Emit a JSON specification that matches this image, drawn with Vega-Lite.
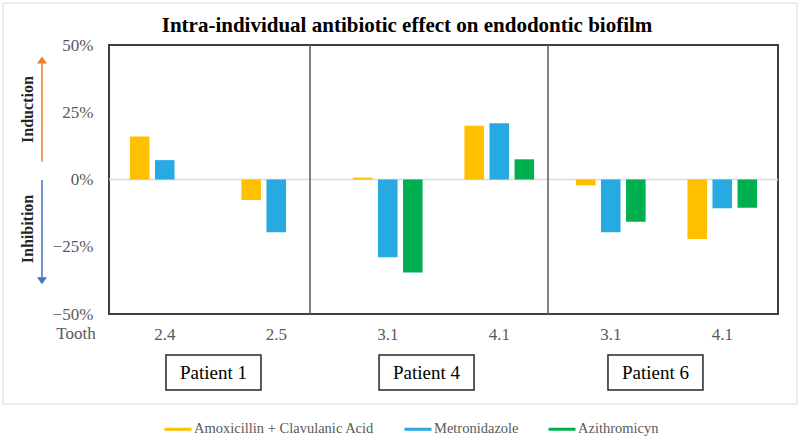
{
  "$schema": "https://vega.github.io/schema/vega-lite/v6.json",
  "width": 669,
  "height": 269,
  "autosize": {"type": "none"},
  "padding": {"left": 109, "top": 45, "right": 22, "bottom": 125},
  "background": "white",
  "datasets": {
    "bars": [
      {"key": "P1 2.4", "drug": "Amoxicillin + Clavulanic Acid", "value": 0.16},
      {"key": "P1 2.4", "drug": "Metronidazole", "value": 0.072},
      {"key": "P1 2.5", "drug": "Amoxicillin + Clavulanic Acid", "value": -0.076},
      {"key": "P1 2.5", "drug": "Metronidazole", "value": -0.196},
      {"key": "P4 3.1", "drug": "Amoxicillin + Clavulanic Acid", "value": 0.007},
      {"key": "P4 3.1", "drug": "Metronidazole", "value": -0.289},
      {"key": "P4 3.1", "drug": "Azithromicyn", "value": -0.346},
      {"key": "P4 4.1", "drug": "Amoxicillin + Clavulanic Acid", "value": 0.2},
      {"key": "P4 4.1", "drug": "Metronidazole", "value": 0.209},
      {"key": "P4 4.1", "drug": "Azithromicyn", "value": 0.075},
      {"key": "P6 3.1", "drug": "Amoxicillin + Clavulanic Acid", "value": -0.022},
      {"key": "P6 3.1", "drug": "Metronidazole", "value": -0.196},
      {"key": "P6 3.1", "drug": "Azithromicyn", "value": -0.157},
      {"key": "P6 4.1", "drug": "Amoxicillin + Clavulanic Acid", "value": -0.221},
      {"key": "P6 4.1", "drug": "Metronidazole", "value": -0.107},
      {"key": "P6 4.1", "drug": "Azithromicyn", "value": -0.105}
    ],
    "one": [{}]
  },
  "resolve": {"scale": {"x": "independent"}, "axis": {"x": "independent"}},
  "layer": [
    {
      "data": {"name": "one"},
      "mark": {"type": "rect", "fill": null, "stroke": "#d9d9d9", "strokeWidth": 1},
      "encoding": {
        "x": {"datum": -0.951, "type": "quantitative", "scale": {"domain": [0, 6], "nice": false, "zero": false}, "axis": null},
        "x2": {"datum": 6.17},
        "y": {"datum": 0.656, "type": "quantitative", "scale": {"domain": [-0.5, 0.5], "nice": false}},
        "y2": {"datum": -0.835}
      }
    },
    {
      "data": {"name": "one"},
      "mark": {"type": "rule", "color": "#d9d9d9", "strokeWidth": 1.5},
      "encoding": {
        "y": {"datum": 0, "type": "quantitative", "scale": {"domain": [-0.5, 0.5], "nice": false}}
      }
    },
    {
      "data": {"name": "bars"},
      "mark": {"type": "bar"},
      "encoding": {
        "x": {
          "field": "key",
          "type": "nominal",
          "sort": null,
          "scale": {"domain": ["P1 2.4", "P1 2.5", "P4 3.1", "P4 4.1", "P6 3.1", "P6 4.1"], "paddingInner": 0.375, "paddingOuter": 0.1875},
          "axis": {"title": null, "labelExpr": "split(datum.label, ' ')[1]", "labelAngle": 0, "ticks": false, "domain": false, "labelPadding": 12, "labelFont": "Liberation Serif", "labelFontSize": 17, "labelColor": "#595959"}
        },
        "xOffset": {
          "field": "drug",
          "type": "nominal",
          "scale": {"domain": ["Amoxicillin + Clavulanic Acid", "Metronidazole", "Azithromicyn"], "paddingInner": 0.22, "paddingOuter": 0}
        },
        "y": {
          "field": "value",
          "type": "quantitative",
          "scale": {"domain": [-0.5, 0.5], "nice": false},
          "axis": {"title": null, "values": [-0.5, -0.25, 0, 0.25, 0.5], "format": ".0%", "grid": false, "ticks": false, "domain": false, "labelPadding": 16, "labelFont": "Liberation Serif", "labelFontSize": 17, "labelColor": "#595959"}
        },
        "color": {
          "field": "drug",
          "type": "nominal",
          "scale": {"domain": ["Amoxicillin + Clavulanic Acid", "Metronidazole", "Azithromicyn"], "range": ["#FFC000", "#27A9E1", "#00B050"]},
          "legend": {
            "orient": "none",
            "legendX": 54,
            "legendY": 369,
            "direction": "horizontal",
            "title": null,
            "symbolType": "stroke",
            "symbolSize": 729,
            "symbolStrokeWidth": 3,
            "labelFont": "Liberation Serif",
            "labelFontSize": 14.5,
            "labelColor": "#595959",
            "labelLimit": 0,
            "labelOffset": 1,
            "columnPadding": 23,
            "encode": {"symbols": {"update": {"stroke": {"scale": "color", "field": "value"}}}}
          }
        }
      }
    },
    {
      "data": {"name": "one"},
      "mark": {"type": "rule", "color": "#595959", "strokeWidth": 1.5},
      "encoding": {
        "x": {"datum": 1.803, "type": "quantitative", "scale": {"domain": [0, 6], "nice": false, "zero": false}, "axis": null},
        "y": {"datum": -0.5, "type": "quantitative", "scale": {"domain": [-0.5, 0.5], "nice": false}},
        "y2": {"datum": 0.5}
      }
    },
    {
      "data": {"name": "one"},
      "mark": {"type": "rule", "color": "#595959", "strokeWidth": 1.5},
      "encoding": {
        "x": {"datum": 3.937, "type": "quantitative", "scale": {"domain": [0, 6], "nice": false, "zero": false}, "axis": null},
        "y": {"datum": -0.5, "type": "quantitative", "scale": {"domain": [-0.5, 0.5], "nice": false}},
        "y2": {"datum": 0.5}
      }
    },
    {
      "data": {"name": "one"},
      "mark": {"type": "rule", "color": "#ED7D31", "strokeWidth": 1.5},
      "encoding": {
        "x": {"datum": -0.601, "type": "quantitative", "scale": {"domain": [0, 6], "nice": false, "zero": false}, "axis": null},
        "y": {"datum": 0.066, "type": "quantitative", "scale": {"domain": [-0.5, 0.5], "nice": false}},
        "y2": {"datum": 0.44}
      }
    },
    {
      "data": {"name": "one"},
      "mark": {"type": "point", "shape": "M-1,0.7L1,0.7L0,-0.7Z", "size": 100, "filled": true, "color": "#ED7D31", "opacity": 1},
      "encoding": {
        "x": {"datum": -0.601, "type": "quantitative", "scale": {"domain": [0, 6], "nice": false, "zero": false}, "axis": null},
        "y": {"datum": 0.444, "type": "quantitative", "scale": {"domain": [-0.5, 0.5], "nice": false}}
      }
    },
    {
      "data": {"name": "one"},
      "mark": {"type": "rule", "color": "#4472C4", "strokeWidth": 1.5},
      "encoding": {
        "x": {"datum": -0.601, "type": "quantitative", "scale": {"domain": [0, 6], "nice": false, "zero": false}, "axis": null},
        "y": {"datum": -0.002, "type": "quantitative", "scale": {"domain": [-0.5, 0.5], "nice": false}},
        "y2": {"datum": -0.37}
      }
    },
    {
      "data": {"name": "one"},
      "mark": {"type": "point", "shape": "M-1,-0.7L1,-0.7L0,0.7Z", "size": 100, "filled": true, "color": "#4472C4", "opacity": 1},
      "encoding": {
        "x": {"datum": -0.601, "type": "quantitative", "scale": {"domain": [0, 6], "nice": false, "zero": false}, "axis": null},
        "y": {"datum": -0.3766, "type": "quantitative", "scale": {"domain": [-0.5, 0.5], "nice": false}}
      }
    },
    {
      "data": {"name": "one"},
      "mark": {"type": "text", "text": "Intra-individual antibiotic effect on endodontic biofilm", "font": "Liberation Serif", "fontSize": 21, "fontWeight": "bold", "color": "#000000", "baseline": "alphabetic", "align": "center"},
      "encoding": {
        "x": {"datum": 2.673, "type": "quantitative", "scale": {"domain": [0, 6], "nice": false, "zero": false}, "axis": null},
        "y": {"datum": 0.547, "type": "quantitative", "scale": {"domain": [-0.5, 0.5], "nice": false}}
      }
    },
    {
      "data": {"name": "one"},
      "mark": {"type": "text", "text": "Induction", "font": "Liberation Serif", "angle": 270, "fontSize": 16, "fontWeight": "bold", "color": "#262626", "baseline": "middle", "align": "center"},
      "encoding": {
        "x": {"datum": -0.726, "type": "quantitative", "scale": {"domain": [0, 6], "nice": false, "zero": false}, "axis": null},
        "y": {"datum": 0.26, "type": "quantitative", "scale": {"domain": [-0.5, 0.5], "nice": false}}
      }
    },
    {
      "data": {"name": "one"},
      "mark": {"type": "text", "text": "Inhibition", "font": "Liberation Serif", "angle": 270, "fontSize": 16, "fontWeight": "bold", "color": "#262626", "baseline": "middle", "align": "center"},
      "encoding": {
        "x": {"datum": -0.726, "type": "quantitative", "scale": {"domain": [0, 6], "nice": false, "zero": false}, "axis": null},
        "y": {"datum": -0.184, "type": "quantitative", "scale": {"domain": [-0.5, 0.5], "nice": false}}
      }
    },
    {
      "data": {"name": "one"},
      "mark": {"type": "text", "text": "Tooth", "font": "Liberation Serif", "fontSize": 17, "color": "#595959", "baseline": "top", "align": "center"},
      "encoding": {
        "x": {"datum": -0.296, "type": "quantitative", "scale": {"domain": [0, 6], "nice": false, "zero": false}, "axis": null},
        "y": {"datum": -0.5454, "type": "quantitative", "scale": {"domain": [-0.5, 0.5], "nice": false}}
      }
    },
    {
      "data": {"name": "one"},
      "mark": {"type": "point", "shape": "M-1,-0.37H1V0.37H-1Z", "size": 9025, "filled": false, "color": "#262626", "strokeWidth": 1.5, "opacity": 1},
      "encoding": {
        "x": {"datum": 0.937, "type": "quantitative", "scale": {"domain": [0, 6], "nice": false, "zero": false}, "axis": null},
        "y": {"datum": -0.7175, "type": "quantitative", "scale": {"domain": [-0.5, 0.5], "nice": false}}
      }
    },
    {
      "data": {"name": "one"},
      "mark": {"type": "text", "text": "Patient 1", "font": "Liberation Serif", "fontSize": 19, "color": "#000000", "baseline": "middle", "align": "center"},
      "encoding": {
        "x": {"datum": 0.937, "type": "quantitative", "scale": {"domain": [0, 6], "nice": false, "zero": false}, "axis": null},
        "y": {"datum": -0.7175, "type": "quantitative", "scale": {"domain": [-0.5, 0.5], "nice": false}}
      }
    },
    {
      "data": {"name": "one"},
      "mark": {"type": "point", "shape": "M-1,-0.37H1V0.37H-1Z", "size": 9025, "filled": false, "color": "#262626", "strokeWidth": 1.5, "opacity": 1},
      "encoding": {
        "x": {"datum": 2.848, "type": "quantitative", "scale": {"domain": [0, 6], "nice": false, "zero": false}, "axis": null},
        "y": {"datum": -0.7175, "type": "quantitative", "scale": {"domain": [-0.5, 0.5], "nice": false}}
      }
    },
    {
      "data": {"name": "one"},
      "mark": {"type": "text", "text": "Patient 4", "font": "Liberation Serif", "fontSize": 19, "color": "#000000", "baseline": "middle", "align": "center"},
      "encoding": {
        "x": {"datum": 2.848, "type": "quantitative", "scale": {"domain": [0, 6], "nice": false, "zero": false}, "axis": null},
        "y": {"datum": -0.7175, "type": "quantitative", "scale": {"domain": [-0.5, 0.5], "nice": false}}
      }
    },
    {
      "data": {"name": "one"},
      "mark": {"type": "point", "shape": "M-1,-0.37H1V0.37H-1Z", "size": 9025, "filled": false, "color": "#262626", "strokeWidth": 1.5, "opacity": 1},
      "encoding": {
        "x": {"datum": 4.901, "type": "quantitative", "scale": {"domain": [0, 6], "nice": false, "zero": false}, "axis": null},
        "y": {"datum": -0.7175, "type": "quantitative", "scale": {"domain": [-0.5, 0.5], "nice": false}}
      }
    },
    {
      "data": {"name": "one"},
      "mark": {"type": "text", "text": "Patient 6", "font": "Liberation Serif", "fontSize": 19, "color": "#000000", "baseline": "middle", "align": "center"},
      "encoding": {
        "x": {"datum": 4.901, "type": "quantitative", "scale": {"domain": [0, 6], "nice": false, "zero": false}, "axis": null},
        "y": {"datum": -0.7175, "type": "quantitative", "scale": {"domain": [-0.5, 0.5], "nice": false}}
      }
    }
  ],
  "config": {
    "font": "Liberation Serif",
    "view": {"stroke": "#404040", "strokeWidth": 2}
  }
}
